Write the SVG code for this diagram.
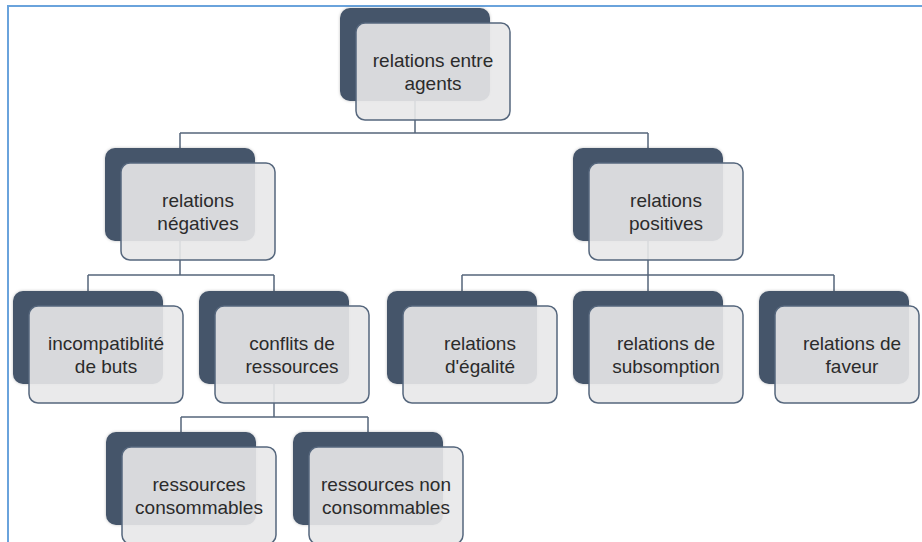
<svg xmlns="http://www.w3.org/2000/svg" width="922" height="542" viewBox="0 0 922 542">
<style>
.dark{fill:#44546a;}
.light{fill:#e8e8e9;fill-opacity:0.9;stroke:#56677d;stroke-width:1.5;}
.lbl{font-family:"Liberation Sans",Arial,sans-serif;font-size:19px;fill:#2b2b2b;text-anchor:middle;}
.conn{stroke:#55657b;stroke-width:1.5;fill:none;}
.frame{stroke:#6aa3dc;stroke-width:2;fill:none;}
</style>
<defs>
<filter id="sh" x="-10%" y="-10%" width="120%" height="120%">
<feDropShadow dx="0" dy="0" stdDeviation="1.5" flood-color="#000" flood-opacity="0.25"/>
</filter>
<g id="box">
<rect class="dark" x="0" y="0" width="150" height="93" rx="10" filter="url(#sh)"/>
<rect class="light" x="16" y="15" width="154" height="97" rx="9"/>
</g>
</defs>
<rect x="0" y="0" width="922" height="542" fill="#ffffff"/>
<path class="frame" d="M8,542 V6 H922"/>
<g id="connectors">
<path class="conn" d="M415,101 V133 M180,133 H648 M180,133 V148 M648,133 V148"/>
<path class="conn" d="M180,241 V275 M88,275 H274 M88,275 V291 M274,275 V291"/>
<path class="conn" d="M648,241 V275 M462,275 H834 M462,275 V291 M648,275 V291 M834,275 V291"/>
<path class="conn" d="M274,384 V417 M181,417 H368 M181,417 V432 M368,417 V432"/>
</g>
<g id="n-top" transform="translate(340,8)">
<use href="#box"/>
<text class="lbl" x="93" y="59">relations entre</text>
<text class="lbl" x="93" y="82">agents</text>
</g>
<g id="n-neg" transform="translate(105,148)">
<use href="#box"/>
<text class="lbl" x="93" y="59">relations</text>
<text class="lbl" x="93" y="82">négatives</text>
</g>
<g id="n-pos" transform="translate(573,148)">
<use href="#box"/>
<text class="lbl" x="93" y="59">relations</text>
<text class="lbl" x="93" y="82">positives</text>
</g>
<g id="n-incomp" transform="translate(13,291)">
<use href="#box"/>
<text class="lbl" x="93" y="59">incompatiblité</text>
<text class="lbl" x="93" y="82">de buts</text>
</g>
<g id="n-conflits" transform="translate(199,291)">
<use href="#box"/>
<text class="lbl" x="93" y="59">conflits de</text>
<text class="lbl" x="93" y="82">ressources</text>
</g>
<g id="n-egalite" transform="translate(387,291)">
<use href="#box"/>
<text class="lbl" x="93" y="59">relations</text>
<text class="lbl" x="93" y="82">d'égalité</text>
</g>
<g id="n-subs" transform="translate(573,291)">
<use href="#box"/>
<text class="lbl" x="93" y="59">relations de</text>
<text class="lbl" x="93" y="82">subsomption</text>
</g>
<g id="n-faveur" transform="translate(759,291)">
<rect class="dark" x="0" y="0" width="150" height="93" rx="10" filter="url(#sh)"/>
<rect class="light" x="16" y="15" width="144" height="97" rx="9"/>
<text class="lbl" x="93" y="59">relations de</text>
<text class="lbl" x="93" y="82">faveur</text>
</g>
<g id="n-cons" transform="translate(106,432)">
<use href="#box"/>
<text class="lbl" x="93" y="59">ressources</text>
<text class="lbl" x="93" y="82">consommables</text>
</g>
<g id="n-noncons" transform="translate(293,432)">
<use href="#box"/>
<text class="lbl" x="93" y="59">ressources non</text>
<text class="lbl" x="93" y="82">consommables</text>
</g>
</svg>
